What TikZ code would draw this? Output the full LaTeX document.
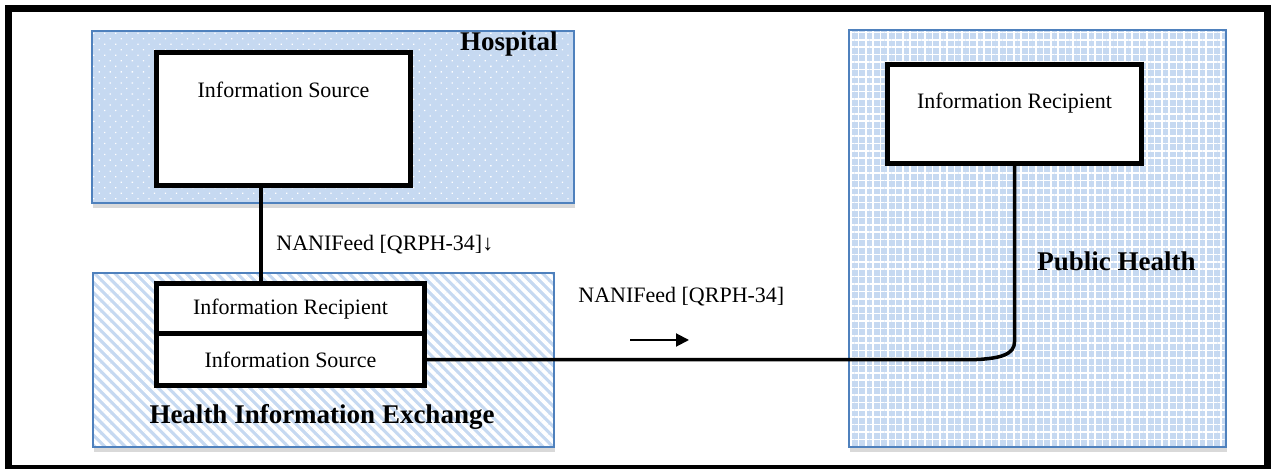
\documentclass[tikz,border=0pt]{standalone}
\usepackage{fontspec}
\setmainfont{Liberation Serif}
\usetikzlibrary{patterns.meta,arrows.meta}
\definecolor{lblue}{HTML}{C6D9F1}
\definecolor{bline}{HTML}{4F81BD}
\definecolor{shad}{HTML}{D9D9D9}
\tikzset{
  grpbox/.style={draw=bline, line width=0.6pt, inner sep=0pt, outer sep=0pt,
    preaction={fill=shad, transform canvas={yshift=-2.5pt, xshift=0.5pt}},
    preaction={fill=lblue}, pattern color=white},
  dotfill/.style={pattern={Dots[radius=0.45pt, distance=3.9pt, angle=45]}},
  stripefill/.style={pattern={Lines[angle=-45, distance=3.6pt, line width=1.9pt]}},
  gridfill/.style={pattern={Hatch[angle=0, distance=3.7pt, line width=0.8pt]}},
  infobox/.style={draw=black, fill=white, line width=2.5pt, inner sep=0pt, outer sep=0pt,
    font=\fontsize{11}{13}\selectfont},
  lbl/.style={inner sep=0pt, font=\fontsize{11}{13}\selectfont},
  ttl/.style={inner sep=0pt, font=\fontsize{13.5}{16}\selectfont\bfseries},
  conn/.style={draw=black, line width=1.75pt},
}
\begin{document}
\begin{tikzpicture}[x=0.5pt,y=-0.5pt]
\useasboundingbox (0,0) rectangle (1272,469);
% outer frame
\node[draw=black, line width=3.5pt, minimum width=629.5pt, minimum height=229.75pt, inner sep=0pt] (frame) at (638,238.25) {};
% groups
\node[grpbox, dotfill, minimum width=241pt, minimum height=86pt] (hosp) at (333,117) {};
\node[grpbox, stripefill, minimum width=230.5pt, minimum height=87pt] (hie) at (323.5,360) {};
\node[grpbox, gridfill, minimum width=188.5pt, minimum height=208.5pt] (ph) at (1037.5,238.5) {};
% group titles
\node[ttl, anchor=base east] (hospt) at (558,51) {Hospital};
\node[ttl, anchor=base] (hiet) at (322,423) {Health Information Exchange};
\node[ttl, anchor=base east] (pht) at (1196,271) {Public Health};
% inner boxes
\node[infobox, minimum width=127pt, minimum height=66.5pt] (hsrc) at (283.5,119) {};
\node[lbl, anchor=base] (hsrct) at (283.5,98) {Information Source};
\node[infobox, minimum width=134pt, minimum height=25.25pt] (hrec) at (290.5,308.75) {Information Recipient};
\node[infobox, minimum width=134pt, minimum height=25.75pt] (hsrc2) at (290.5,359.75) {Information Source};
\node[infobox, minimum width=127pt, minimum height=49.5pt] (prec) at (1014.5,114) {};
\node[lbl, anchor=base] (prect) at (1014.5,109) {Information Recipient};
% connectors
\coordinate (vx) at (261,0);
\draw[conn] (hsrc.south -| vx) -- (hrec.north -| vx);
\coordinate (bend) at (hsrc2.east -| prec.south);
\draw[conn] (hsrc2.east) -- ([xshift=-25pt]bend) .. controls ([xshift=-6pt]bend) and ([yshift=3pt]bend) .. ([yshift=9pt]bend) -- (prec.south);
% labels
\node[lbl, anchor=base west] (lab1) at (276,251) {NANIFeed [QRPH-34]↓};
\node[lbl, anchor=base west] (lab2) at (578,303) {NANIFeed [QRPH-34]};
\coordinate (arrA) at (630,340);
\coordinate (arrB) at (689,340);
\draw[line width=1pt, -{Triangle[length=6.5pt, width=6.5pt]}] (arrA) -- (arrB);
\end{tikzpicture}
\end{document}
